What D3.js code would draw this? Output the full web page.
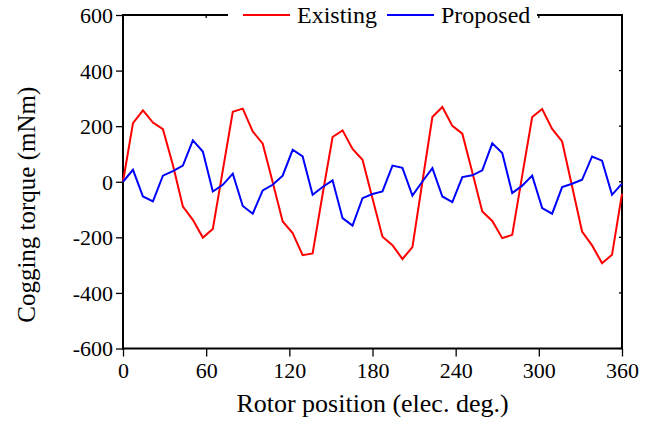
<!DOCTYPE html>
<html>
<head>
<meta charset="utf-8">
<script src="https://cdn.jsdelivr.net/npm/d3@7"></script>
<style>
  body { margin: 0; background: #fff; }
</style>
</head>
<body>
<svg width="660" height="423"></svg>
<script>
// rotor position in electrical degrees
var rotor = [0, 7.2, 14.4, 21.6, 28.8, 36, 43.2, 50.4, 57.6, 64.8, 72, 79.2, 86.4, 93.6, 100.8,
  108, 115.2, 122.4, 129.6, 136.8, 144, 151.2, 158.4, 165.6, 172.8, 180, 187.2, 194.4, 201.6,
  208.8, 216, 223.2, 230.4, 237.6, 244.8, 252, 259.2, 266.4, 273.6, 280.8, 288, 295.2, 302.4,
  309.6, 316.8, 324, 331.2, 338.4, 345.6, 352.8, 360]

var existing = [0, 211, 257, 213, 189, 60, -89, -137, -201, -170, 41, 252, 263,
  181, 137, -2, -143, -185, -264, -258, -45, 161, 185, 118, 79, -60,
  -198, -228, -278, -235, 0, 233, 269, 201, 173, 34, -107, -141,
  -203, -191, 22, 233, 262, 190, 145, -17, -179, -229, -293, -263, -43]

var proposed = [0, 43, -53, -71, 22, 38, 58, 149, 109, -35, -11, 29, -87,
  -115, -31, -11, 22, 115, 91, -47, -19, 5, -131, -158, -59, -44,
  -35, 58, 50, -50, 1, 49, -53, -73, 17, 23, 41, 138,
  103, -41, -14, 22, -95, -115, -19, -7, 7, 91, 76, -47, -7]

var xTicks = [0, 60, 120, 180, 240, 300, 360]
var yTicks = [-600, -400, -200, 0, 200, 400, 600]

var seriesNames = ['Existing', 'Proposed']
var seriesColors = ['#ff0000', '#0000ff']

var serif = "'Liberation Serif'"

var svg = d3.select('svg')

var x = d3.scaleLinear().domain([0, 360]).range([123, 622])
var y = d3.scaleLinear().domain([-600, 600]).range([348.5, 15])

// bottom axis
var xAxis = d3.axisBottom(x).tickValues(xTicks).tickSize(8).tickPadding(4)
  .tickFormat(function(d){ return d })
var gx = svg.append('g').attr('transform', 'translate(0,' + y(-600) + ')').call(xAxis)
  .attr('font-family', serif)
gx.select('.domain').remove()
gx.selectAll('line').attr('stroke', '#000').attr('stroke-width', 1.3)
gx.selectAll('text').attr('font-family', serif).attr('font-size', 22).attr('fill', '#000').attr('dy', '0.78em')

// left axis
var yAxis = d3.axisLeft(y).tickValues(yTicks).tickSize(7).tickPadding(3)
  .tickFormat(function(d){ return d })
var gy = svg.append('g').attr('transform', 'translate(' + x(0) + ',0)').call(yAxis)
  .attr('font-family', serif)
gy.select('.domain').remove()
gy.selectAll('line').attr('stroke', '#000').attr('stroke-width', 1.3)
gy.selectAll('text').attr('font-family', serif).attr('font-size', 22).attr('fill', '#000').attr('dy', '0.34em')

// small inner ticks on top and right
svg.append('g').selectAll('line').data(xTicks).join('line')
  .attr('x1', function(d){ return x(d) }).attr('x2', function(d){ return x(d) })
  .attr('y1', y(600)).attr('y2', y(600) + 3)
  .attr('stroke', '#000').attr('stroke-width', 1.3)
svg.append('g').selectAll('line').data(yTicks).join('line')
  .attr('x1', x(360)).attr('x2', x(360) - 3)
  .attr('y1', function(d){ return y(d) }).attr('y2', function(d){ return y(d) })
  .attr('stroke', '#000').attr('stroke-width', 1.3)

// frame
svg.append('rect')
  .attr('x', x(0)).attr('y', y(600))
  .attr('width', x(360) - x(0)).attr('height', y(-600) - y(600))
  .attr('fill', 'none').attr('stroke', '#000').attr('stroke-width', 2)

// lines
var line = d3.line()
  .x(function(d){ return x(d[0]) })
  .y(function(d){ return y(d[1]) })

var series = [existing, proposed]
series.forEach(function(vals, k){
  svg.append('path')
    .datum(rotor.map(function(r, i){ return [r, vals[i]] }))
    .attr('d', line)
    .attr('fill', 'none')
    .attr('stroke', seriesColors[k])
    .attr('stroke-width', 2)
    .attr('stroke-linejoin', 'miter')
})

// legend sitting on the top border
var legend = svg.append('g').attr('font-family', serif)
legend.append('rect')
  .attr('x', 228).attr('y', 4).attr('width', 309).attr('height', 24)
  .attr('fill', '#fff')
var legendX = [243, 387]
seriesNames.forEach(function(name, k){
  legend.append('line')
    .attr('x1', legendX[k]).attr('x2', legendX[k] + 47)
    .attr('y1', y(600)).attr('y2', y(600))
    .attr('stroke', seriesColors[k]).attr('stroke-width', 2)
  legend.append('text')
    .attr('x', legendX[k] + 54).attr('y', 23)
    .attr('font-family', serif)
    .attr('font-size', 24)
    .text(name)
})

// axis titles
svg.append('text')
  .attr('x', (x(0) + x(360)) / 2).attr('y', 412)
  .attr('text-anchor', 'middle')
  .attr('font-family', serif)
  .attr('font-size', 26)
  .text('Rotor position (elec. deg.)')

svg.append('text')
  .attr('transform', 'translate(35,' + (y(0) + 23) + ') rotate(-90)')
  .attr('text-anchor', 'middle')
  .attr('font-family', serif)
  .attr('font-size', 25)
  .text('Cogging torque (mNm)')
</script>
</body>
</html>
